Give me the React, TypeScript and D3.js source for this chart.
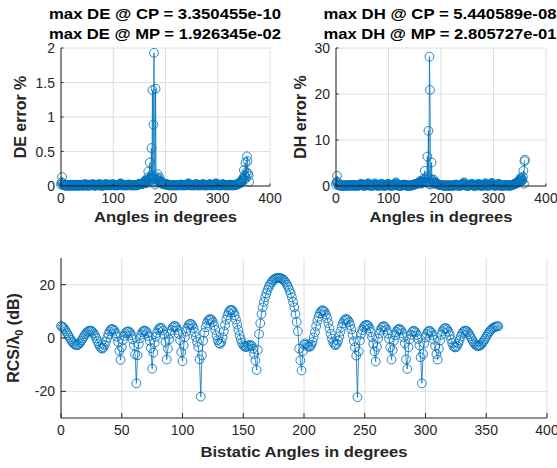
import React from "react";
import * as d3 from "d3";

const FONT = '"Liberation Sans", Arial, Helvetica, sans-serif';
const BLUE = "#0072BD";
const AXIS = "#262626";
const GRID = "#dedede";

// Sampling: one sample per degree, 0..360
const angleStep = 1;

// DE error % (index = angle in degrees)
const deError = [
  0.02, 0.05, 0.13, 0.04, 0.02, 0.01, 0.01, 0.02, 0.01, 0.01, 0.00, 0.01, 0.01, 0.02, 0.01, 0.00, 0.01, 0.01, 0.01, 0.02,
  0.01, 0.00, 0.01, 0.01, 0.02, 0.01, 0.01, 0.00, 0.01, 0.01, 0.02, 0.01, 0.01, 0.01, 0.00, 0.01, 0.02, 0.01, 0.01, 0.01,
  0.01, 0.02, 0.01, 0.00, 0.01, 0.01, 0.03, 0.01, 0.01, 0.02, 0.01, 0.01, 0.00, 0.01, 0.02, 0.01, 0.01, 0.01, 0.02, 0.01,
  0.01, 0.03, 0.02, 0.01, 0.01, 0.00, 0.01, 0.01, 0.02, 0.01, 0.01, 0.01, 0.02, 0.01, 0.03, 0.02, 0.01, 0.01, 0.00, 0.01,
  0.01, 0.02, 0.01, 0.01, 0.01, 0.02, 0.03, 0.02, 0.01, 0.01, 0.01, 0.01, 0.02, 0.01, 0.01, 0.01, 0.01, 0.02, 0.02, 0.03,
  0.02, 0.01, 0.01, 0.01, 0.01, 0.01, 0.01, 0.01, 0.01, 0.01, 0.01, 0.02, 0.02, 0.03, 0.04, 0.03, 0.02, 0.01, 0.01, 0.01,
  0.01, 0.01, 0.01, 0.01, 0.01, 0.01, 0.01, 0.01, 0.02, 0.02, 0.02, 0.02, 0.01, 0.01, 0.01, 0.01, 0.01, 0.01, 0.01, 0.01,
  0.01, 0.01, 0.01, 0.01, 0.01, 0.01, 0.01, 0.02, 0.02, 0.03, 0.03, 0.03, 0.03, 0.03, 0.03, 0.03, 0.03, 0.04, 0.04, 0.05,
  0.06, 0.08, 0.04, 0.05, 0.07, 0.09, 0.12, 0.21, 0.05, 0.10, 0.34, 0.08, 0.12, 0.55, 0.15, 1.39, 0.10, 0.89, 1.93, 0.05,
  0.02, 1.41, 0.10, 0.13, 0.05, 0.17, 0.08, 0.10, 0.06, 0.12, 0.07, 0.05, 0.06, 0.04, 0.03, 0.03, 0.04, 0.03, 0.03, 0.02,
  0.02, 0.03, 0.03, 0.02, 0.02, 0.02, 0.01, 0.01, 0.01, 0.01, 0.01, 0.01, 0.01, 0.01, 0.01, 0.01, 0.01, 0.01, 0.01, 0.01,
  0.01, 0.01, 0.01, 0.01, 0.01, 0.01, 0.01, 0.01, 0.02, 0.02, 0.02, 0.01, 0.01, 0.01, 0.01, 0.01, 0.01, 0.01, 0.01, 0.01,
  0.01, 0.02, 0.02, 0.03, 0.04, 0.03, 0.01, 0.01, 0.01, 0.01, 0.01, 0.01, 0.01, 0.01, 0.01, 0.01, 0.01, 0.02, 0.02, 0.03,
  0.02, 0.01, 0.01, 0.01, 0.01, 0.01, 0.01, 0.01, 0.01, 0.02, 0.01, 0.02, 0.03, 0.02, 0.01, 0.01, 0.01, 0.01, 0.01, 0.01,
  0.01, 0.01, 0.02, 0.01, 0.02, 0.03, 0.02, 0.01, 0.01, 0.01, 0.01, 0.01, 0.01, 0.01, 0.02, 0.02, 0.03, 0.04, 0.03, 0.01,
  0.01, 0.01, 0.01, 0.01, 0.01, 0.01, 0.01, 0.01, 0.02, 0.02, 0.03, 0.02, 0.01, 0.01, 0.01, 0.01, 0.01, 0.01, 0.01, 0.01,
  0.01, 0.01, 0.01, 0.02, 0.02, 0.01, 0.01, 0.01, 0.01, 0.01, 0.01, 0.01, 0.01, 0.01, 0.02, 0.02, 0.02, 0.02, 0.03, 0.03,
  0.03, 0.04, 0.04, 0.05, 0.06, 0.05, 0.07, 0.08, 0.10, 0.12, 0.23, 0.09, 0.15, 0.34, 0.12, 0.20, 0.43, 0.36, 0.18, 0.15,
  0.06,
];

// DH error % (index = angle in degrees)
const dhError = [
  0.3, 0.8, 2.2, 0.9, 0.4, 0.2, 0.1, 0.1, 0.2, 0.1, 0.1, 0.1, 0.2, 0.1, 0.1, 0.0, 0.1, 0.1, 0.1, 0.2,
  0.1, 0.1, 0.1, 0.1, 0.2, 0.1, 0.1, 0.1, 0.1, 0.2, 0.3, 0.1, 0.1, 0.1, 0.1, 0.1, 0.2, 0.1, 0.1, 0.1,
  0.1, 0.2, 0.1, 0.1, 0.1, 0.2, 0.4, 0.2, 0.3, 0.5, 0.2, 0.1, 0.1, 0.1, 0.2, 0.1, 0.1, 0.1, 0.2, 0.3,
  0.3, 0.6, 0.5, 0.2, 0.1, 0.1, 0.1, 0.1, 0.2, 0.1, 0.1, 0.1, 0.2, 0.3, 0.6, 0.4, 0.2, 0.1, 0.1, 0.1,
  0.1, 0.1, 0.1, 0.1, 0.2, 0.2, 0.4, 0.5, 0.2, 0.1, 0.1, 0.1, 0.1, 0.1, 0.1, 0.1, 0.2, 0.2, 0.3, 0.5,
  0.4, 0.2, 0.1, 0.1, 0.1, 0.1, 0.1, 0.1, 0.1, 0.1, 0.2, 0.2, 0.3, 0.5, 0.8, 0.6, 0.3, 0.1, 0.1, 0.1,
  0.1, 0.1, 0.1, 0.1, 0.1, 0.1, 0.1, 0.2, 0.2, 0.3, 0.3, 0.2, 0.2, 0.1, 0.1, 0.1, 0.1, 0.1, 0.1, 0.1,
  0.1, 0.1, 0.1, 0.1, 0.1, 0.2, 0.2, 0.2, 0.3, 0.3, 0.4, 0.4, 0.4, 0.5, 0.5, 0.5, 0.6, 0.6, 0.7, 0.8,
  0.9, 1.1, 0.6, 0.5, 0.7, 0.9, 1.2, 1.6, 0.8, 3.3, 1.0, 1.5, 0.8, 2.0, 6.4, 0.9, 12.0, 0.5, 28.1, 20.9,
  0.3, 1.5, 5.1, 0.8, 1.2, 0.5, 1.4, 0.6, 0.9, 0.7, 0.6, 0.5, 0.5, 0.4, 0.4, 0.3, 0.3, 0.3, 0.2, 0.2,
  0.2, 0.2, 0.2, 0.1, 0.1, 0.1, 0.1, 0.1, 0.1, 0.1, 0.1, 0.1, 0.1, 0.1, 0.1, 0.1, 0.1, 0.1, 0.1, 0.1,
  0.1, 0.1, 0.1, 0.1, 0.1, 0.1, 0.2, 0.2, 0.3, 0.3, 0.2, 0.1, 0.1, 0.1, 0.1, 0.1, 0.1, 0.1, 0.1, 0.2,
  0.2, 0.3, 0.5, 0.6, 0.8, 0.5, 0.2, 0.1, 0.1, 0.1, 0.1, 0.1, 0.1, 0.1, 0.1, 0.2, 0.2, 0.3, 0.4, 0.5,
  0.3, 0.1, 0.1, 0.1, 0.1, 0.1, 0.1, 0.1, 0.1, 0.2, 0.3, 0.4, 0.5, 0.3, 0.1, 0.1, 0.1, 0.1, 0.1, 0.1,
  0.1, 0.1, 0.2, 0.3, 0.5, 0.6, 0.3, 0.1, 0.1, 0.1, 0.1, 0.1, 0.1, 0.2, 0.3, 0.4, 0.5, 0.7, 0.4, 0.2,
  0.1, 0.1, 0.1, 0.1, 0.1, 0.1, 0.1, 0.2, 0.3, 0.4, 0.5, 0.3, 0.1, 0.1, 0.1, 0.1, 0.1, 0.1, 0.1, 0.1,
  0.1, 0.1, 0.2, 0.2, 0.2, 0.2, 0.1, 0.1, 0.1, 0.1, 0.1, 0.1, 0.1, 0.1, 0.2, 0.2, 0.2, 0.3, 0.3, 0.4,
  0.4, 0.5, 0.5, 0.6, 0.7, 0.6, 0.8, 0.9, 1.0, 1.2, 1.4, 1.0, 1.8, 1.1, 1.5, 1.2, 2.0, 3.3, 0.5, 5.4,
  5.7,
];

// Bistatic RCS / lambda0 in dB (index = angle in degrees)
const rcsDb = [
  4.5, 4.3, 3.9, 3.3, 2.6, 1.8, 1.0, 0.2, -0.6, -1.3,
  -1.9, -2.3, -2.6, -2.7, -2.6, -2.2, -1.6, -0.9, -0.1, 0.7,
  1.4, 2.0, 2.4, 2.7, 2.8, 2.7, 2.3, 1.7, 0.9, -0.1,
  -1.2, -2.3, -3.2, -3.8, -4.0, -3.6, -2.6, -1.3, 0.1, 1.4,
  2.5, 3.2, 3.4, 3.2, 2.7, 1.8, 0.5, -1.5, -4.8, -8.2,
  -3.5, -0.8, 0.8, 1.8, 2.3, 2.5, 2.4, 1.9, 1.0, -0.5,
  -2.8, -6.2, -17.0, -6.5, -2.3, -0.1, 1.3, 2.2, 2.7, 2.8,
  2.5, 1.8, 0.7, -1.0, -3.8, -11.5, -5.5, -1.8, 0.4, 1.9,
  3.0, 3.7, 3.9, 3.6, 2.8, 1.3, -1.5, -8.1, -4.0, -0.5,
  1.6, 3.0, 4.0, 4.5, 4.5, 4.0, 3.0, 1.5, -0.8, -5.3,
  -8.7, -2.8, 0.3, 2.4, 3.8, 4.8, 5.3, 5.3, 4.8, 3.8,
  2.2, 0.4, -1.5, -3.4, -8.0, -22.0, -6.5, -1.0, 2.0, 4.0,
  5.5, 6.5, 7.0, 7.1, 6.8, 6.0, 4.7, 3.0, 1.0, -0.8,
  -1.9, -2.2, -1.5, 0.2, 2.5, 4.8, 6.9, 8.5, 9.7, 10.4,
  10.6, 10.4, 9.7, 8.5, 6.9, 5.0, 3.0, 1.1, -0.5, -1.8,
  -2.7, -3.2, -3.4, -3.3, -3.0, -2.7, -2.6, -3.0, -4.0, -6.0,
  -8.4, -12.0, -4.5, 1.5, 5.5, 9.0, 11.5, 13.5, 15.3, 16.8,
  18.0, 19.1, 20.0, 20.8, 21.4, 21.9, 22.2, 22.4, 22.5, 22.6,
  22.5, 22.4, 22.2, 21.9, 21.4, 20.8, 20.0, 19.1, 18.0, 16.8,
  15.3, 13.5, 11.5, 9.0, 6.0, 2.5, -4.0, -8.4, -12.2, -5.0,
  -2.5, -2.0, -2.5, -3.0, -3.3, -3.2, -2.6, -1.5, 0.2, 2.2,
  4.4, 6.4, 8.0, 9.2, 10.0, 10.4, 10.3, 9.8, 8.8, 7.4,
  5.6, 3.6, 1.6, -0.2, -1.6, -2.4, -2.7, -2.2, -1.0, 0.6,
  2.4, 4.1, 5.5, 6.5, 7.0, 7.1, 6.8, 6.0, 4.8, 3.2,
  1.2, -1.2, -3.5, -6.6, -22.2, -5.0, -1.0, 1.5, 3.0, 4.0,
  4.6, 4.9, 4.9, 4.5, 3.6, 2.2, 0.3, -2.2, -5.0, -8.8,
  -3.3, -0.2, 1.7, 3.0, 3.9, 4.4, 4.4, 4.0, 3.1, 1.7,
  -0.3, -3.5, -8.1, -4.5, -1.0, 1.0, 2.3, 3.1, 3.4, 3.3,
  2.8, 1.8, 0.3, -2.0, -8.0, -11.6, -3.5, -0.5, 1.2, 2.3,
  2.7, 2.6, 2.1, 1.1, -0.4, -2.8, -7.2, -17.0, -6.0, -2.0,
  0.2, 1.6, 2.4, 2.7, 2.6, 2.0, 1.0, -0.6, -3.0, -6.0,
  -8.1, -4.0, -0.9, 1.2, 2.6, 3.4, 3.7, 3.7, 3.2, 2.3,
  1.0, -0.5, -1.9, -3.0, -3.5, -3.5, -3.0, -2.0, -0.8, 0.5,
  1.6, 2.3, 2.7, 2.8, 2.6, 2.1, 1.4, 0.6, -0.3, -1.2,
  -1.9, -2.5, -2.9, -3.0, -3.0, -2.8, -2.4, -1.8, -1.1, -0.3,
  0.5, 1.3, 2.0, 2.6, 3.1, 3.5, 3.9, 4.1, 4.3, 4.4,
  4.4,
];

const topXTicks = [0, 100, 200, 300, 400];
const deYTicks = [0, 0.5, 1, 1.5, 2];
const dhYTicks = [0, 10, 20, 30];
const rcsXTicks = [0, 50, 100, 150, 200, 250, 300, 350, 400];
const rcsYTicks = [-20, 0, 20];

const deTitle = ["max DE @ CP = 3.350455e-10", "max DE @ MP = 1.926345e-02"];
const dhTitle = ["max DH @ CP = 5.440589e-08", "max DH @ MP = 2.805727e-01"];

type PanelProps = {
  left: number;
  right: number;
  top: number;
  bottom: number;
  xDomain: [number, number];
  yDomain: [number, number];
  xTicks: number[];
  yTicks: number[];
  values: number[];
  tickLen: number;
};

function Panel(p: PanelProps) {
  const x = d3.scaleLinear().domain(p.xDomain).range([p.left, p.right]);
  const y = d3.scaleLinear().domain(p.yDomain).range([p.bottom, p.top]);
  const pts: [number, number][] = p.values.map((v, i) => [x(i * angleStep), y(v)]);
  const path = d3.line()(pts) || "";
  const fmt = (t: number) => String(t);
  return (
    <g>
      {p.xTicks.map((t) => (
        <line key={"gx" + t} x1={x(t)} x2={x(t)} y1={p.top} y2={p.bottom} stroke={GRID} strokeWidth={1} />
      ))}
      {p.yTicks.map((t) => (
        <line key={"gy" + t} x1={p.left} x2={p.right} y1={y(t)} y2={y(t)} stroke={GRID} strokeWidth={1} />
      ))}
      <path d={path} fill="none" stroke={BLUE} strokeWidth={0.8} />
      {pts.map(([cx, cy], i) => (
        <circle key={i} cx={cx} cy={cy} r={4.4} fill="none" stroke={BLUE} strokeWidth={1} strokeOpacity={0.85} />
      ))}
      <line x1={p.left} x2={p.left} y1={p.top} y2={p.bottom} stroke={AXIS} strokeWidth={1} />
      <line x1={p.left} x2={p.right} y1={p.bottom} y2={p.bottom} stroke={AXIS} strokeWidth={1} />
      {p.xTicks.map((t) => (
        <line key={"tx" + t} x1={x(t)} x2={x(t)} y1={p.bottom} y2={p.bottom - p.tickLen} stroke={AXIS} strokeWidth={1} />
      ))}
      {p.yTicks.map((t) => (
        <line key={"ty" + t} x1={p.left} x2={p.left + p.tickLen} y1={y(t)} y2={y(t)} stroke={AXIS} strokeWidth={1} />
      ))}
      {p.xTicks.map((t) => (
        <text key={"lx" + t} x={x(t)} y={p.bottom + 17} textAnchor="middle" fontSize={14} fill={AXIS} fontFamily={FONT}>
          {fmt(t)}
        </text>
      ))}
      {p.yTicks.map((t) => (
        <text key={"ly" + t} x={p.left - 6} y={y(t) + 5} textAnchor="end" fontSize={14} fill={AXIS} fontFamily={FONT}>
          {fmt(t)}
        </text>
      ))}
    </g>
  );
}

export default function App() {
  return (
    <svg
      width={557}
      height={468}
      style={{ position: "absolute", left: 0, top: 0, background: "#fff" }}
      fontFamily={FONT}
    >
      <rect x={0} y={0} width={557} height={468} fill="#fff" />
      <Panel left={61} right={270} top={48} bottom={186} xDomain={[0, 400]} yDomain={[0, 2]}
        xTicks={topXTicks} yTicks={deYTicks} values={deError} tickLen={2.5} />
      <Panel left={336} right={546} top={48} bottom={186} xDomain={[0, 400]} yDomain={[0, 30]}
        xTicks={topXTicks} yTicks={dhYTicks} values={dhError} tickLen={2.5} />
      <Panel left={61} right={547} top={258} bottom={418} xDomain={[0, 400]} yDomain={[-30, 30]}
        xTicks={rcsXTicks} yTicks={rcsYTicks} values={rcsDb} tickLen={5} />

      {/* titles */}
      {deTitle.map((t, i) => (
        <text key={"dt" + i} x={165} y={19 + i * 20} textAnchor="middle" fontSize={15} fontWeight="bold"
          fill="#000" textLength={232} lengthAdjust="spacingAndGlyphs">{t}</text>
      ))}
      {dhTitle.map((t, i) => (
        <text key={"ht" + i} x={440} y={19 + i * 20} textAnchor="middle" fontSize={15} fontWeight="bold"
          fill="#000" textLength={233} lengthAdjust="spacingAndGlyphs">{t}</text>
      ))}

      {/* x labels */}
      <text x={165.5} y={222} textAnchor="middle" fontSize={15} fontWeight="bold" fill={AXIS}
        textLength={143} lengthAdjust="spacingAndGlyphs">Angles in degrees</text>
      <text x={441} y={222} textAnchor="middle" fontSize={15} fontWeight="bold" fill={AXIS}
        textLength={143} lengthAdjust="spacingAndGlyphs">Angles in degrees</text>
      <text x={304} y={457} textAnchor="middle" fontSize={15} fontWeight="bold" fill={AXIS}
        textLength={207} lengthAdjust="spacingAndGlyphs">Bistatic Angles in degrees</text>

      {/* y labels */}
      <text transform="translate(26,117) rotate(-90)" textAnchor="middle" fontSize={16} fontWeight="bold" fill={AXIS}>
        DE error %
      </text>
      <text transform="translate(306,117) rotate(-90)" textAnchor="middle" fontSize={16} fontWeight="bold" fill={AXIS}>
        DH error %
      </text>
      <text transform="translate(19,338) rotate(-90)" textAnchor="middle" fontSize={16} fontWeight="bold" fill={AXIS}>
        <tspan>RCS/λ</tspan>
        <tspan dy={4} fontSize={11}>0</tspan>
        <tspan dy={-4}> (dB)</tspan>
      </text>
    </svg>
  );
}
